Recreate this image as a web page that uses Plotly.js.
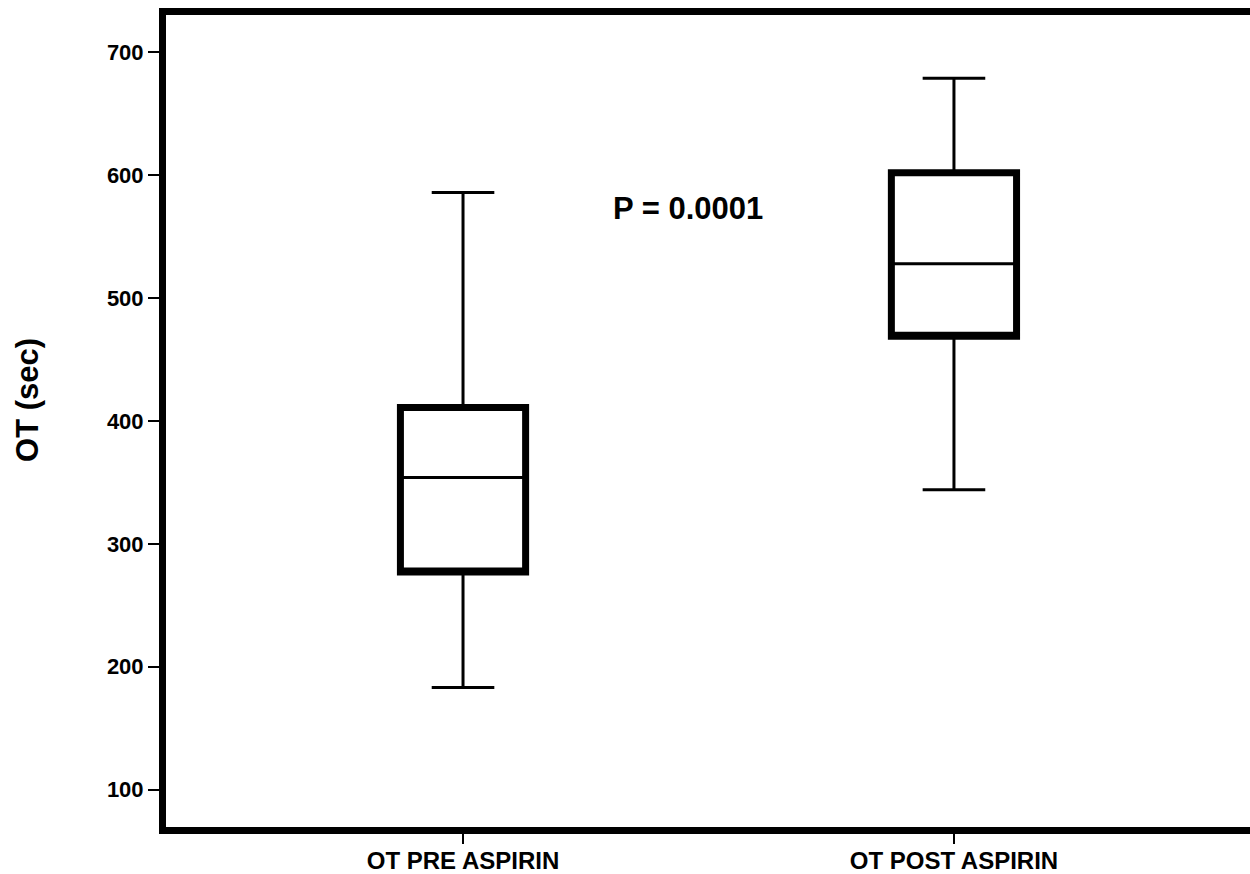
<!DOCTYPE html>
<html>
<head>
<meta charset="utf-8">
<script src="https://cdn.plot.ly/plotly-3.0.1.min.js"></script>
<style>
  html, body { margin: 0; padding: 0; overflow: hidden; background: #fff; }
  #chart { width: 1260px; height: 874px; }
</style>
</head>
<body>
<div id="chart"></div>
<script>
// Data
var categories  = ["OT PRE ASPIRIN", "OT POST ASPIRIN"];
var lowerWhisker = [183, 344];
var q1Values     = [277, 469];
var medianValues = [354, 528];
var q3Values     = [411, 602];
var upperWhisker = [586, 679];
var yTickValues  = [100, 200, 300, 400, 500, 600, 700];
var pValueLabel  = "P = 0.0001";
var yAxisLabel   = "OT (sec)";

var FONT = "Liberation Sans, Arial, Helvetica, sans-serif";

// Thin trace: whiskers and median
var thin = {
  type: "box",
  x: categories,
  q1: q1Values,
  median: medianValues,
  q3: q3Values,
  lowerfence: lowerWhisker,
  upperfence: upperWhisker,
  width: 0.255,
  whiskerwidth: 0.5,
  boxpoints: false,
  line: { color: "#000000", width: 3 },
  fillcolor: "rgba(255,255,255,0)",
  hoverinfo: "skip",
  showlegend: false
};

// Thick trace: box outline only (whiskers collapsed onto the box edges)
var thick = {
  type: "box",
  x: categories,
  q1: q1Values,
  median: q1Values,
  q3: q3Values,
  lowerfence: q1Values,
  upperfence: q3Values,
  width: 0.255,
  whiskerwidth: 0,
  boxpoints: false,
  line: { color: "#000000", width: 7 },
  fillcolor: "rgba(255,255,255,0)",
  hoverinfo: "skip",
  showlegend: false
};

var layout = {
  width: 1260,
  height: 874,
  margin: { l: 166, r: 10, t: 15, b: 47 },
  paper_bgcolor: "#ffffff",
  plot_bgcolor: "#ffffff",
  boxmode: "overlay",
  showlegend: false,
  xaxis: {
    type: "category",
    range: [-0.605, 1.603],
    showgrid: false,
    zeroline: false,
    showline: true,
    mirror: true,
    linecolor: "#000000",
    linewidth: 7,
    ticks: "outside",
    ticklen: 10,
    tickwidth: 2,
    tickcolor: "#000000",
    ticklabelstandoff: -4,
    tickfont: { family: FONT, size: 24, color: "#000000", weight: "bold" }
  },
  yaxis: {
    range: [69.5, 730.4],
    tickvals: yTickValues,
    ticktext: yTickValues.map(String),
    showgrid: false,
    zeroline: false,
    showline: true,
    mirror: true,
    linecolor: "#000000",
    linewidth: 7,
    ticks: "outside",
    ticklen: 11,
    tickwidth: 2,
    tickcolor: "#000000",
    tickfont: { family: FONT, size: 22, color: "#000000", weight: "bold" }
  },
  annotations: [{
    text: pValueLabel,
    xref: "x", yref: "y",
    x: 0.459, y: 573,
    showarrow: false,
    font: { family: FONT, size: 31, color: "#000000", weight: "bold" }
  }, {
    text: yAxisLabel,
    xref: "paper", yref: "paper",
    x: -0.1273, y: 0.526,
    xanchor: "center", yanchor: "middle",
    textangle: -90,
    showarrow: false,
    font: { family: FONT, size: 31, color: "#000000", weight: "bold" }
  }]
};

Plotly.newPlot("chart", [thin, thick], layout, { displayModeBar: false, staticPlot: true });
</script>
</body>
</html>
